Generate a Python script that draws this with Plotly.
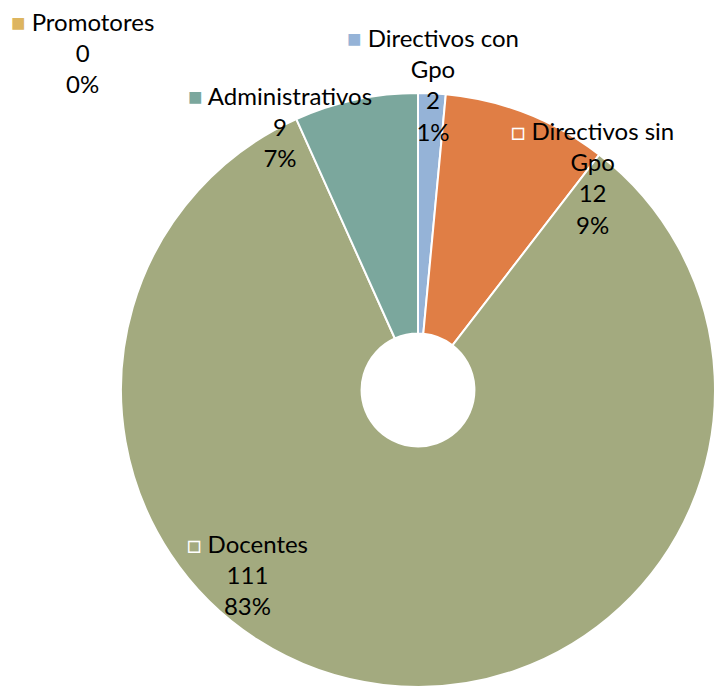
import plotly.graph_objects as go

categorias = ['Directivos con Gpo', 'Directivos sin Gpo', 'Docentes', 'Administrativos', 'Promotores']
valores = [2, 12, 111, 9, 0]
porcentajes = ['1%', '9%', '83%', '7%', '0%']
colores = ['#95B3D7', '#E07E45', '#A3AA7F', '#7BA79D', '#DDB55F']

W, H = 720, 692
cx, cy, r = 418, 390, 297

fig = go.Figure(go.Pie(
    labels=categorias,
    values=valores,
    sort=False,
    direction='clockwise',
    rotation=0,
    hole=0.19,
    marker=dict(colors=colores, line=dict(color='white', width=2)),
    textinfo='none',
    showlegend=False,
    domain=dict(x=[(cx - r) / W, (cx + r) / W], y=[1 - (cy + r) / H, 1 - (cy - r) / H])
))

# etiquetas: (x, y centro del bloque), marcador hueco o lleno
etiquetas = {
    'Directivos con Gpo': (433, 85, False, 'Directivos con<br>Gpo'),
    'Directivos sin Gpo': (592, 177, True, 'Directivos sin<br>Gpo'),
    'Docentes': (247, 574, True, 'Docentes'),
    'Administrativos': (280, 127, False, 'Administrativos'),
    'Promotores': (82, 52, False, 'Promotores'),
}

for cat, val, pct, col in zip(categorias, valores, porcentajes, colores):
    x, y, hueco, nombre = etiquetas[cat]
    if hueco:
        marca = '<span style="color:white">□</span>'
    else:
        marca = f'<span style="color:{col}">■</span>'
    texto = f'{marca} {nombre}<br>{val}<br>{pct}'
    fig.add_annotation(
        x=x / W, y=1 - y / H, xref='paper', yref='paper',
        text=texto, showarrow=False, align='center',
        xanchor='center', yanchor='middle',
        font=dict(family='Lato, sans-serif', size=24, color='black')
    )

fig.update_layout(
    width=W, height=H,
    margin=dict(l=0, r=0, t=0, b=0),
    paper_bgcolor='white',
    plot_bgcolor='white'
)

fig.write_html('out.html', config={'displayModeBar': False},
               post_script="document.body.style.margin='0';")
